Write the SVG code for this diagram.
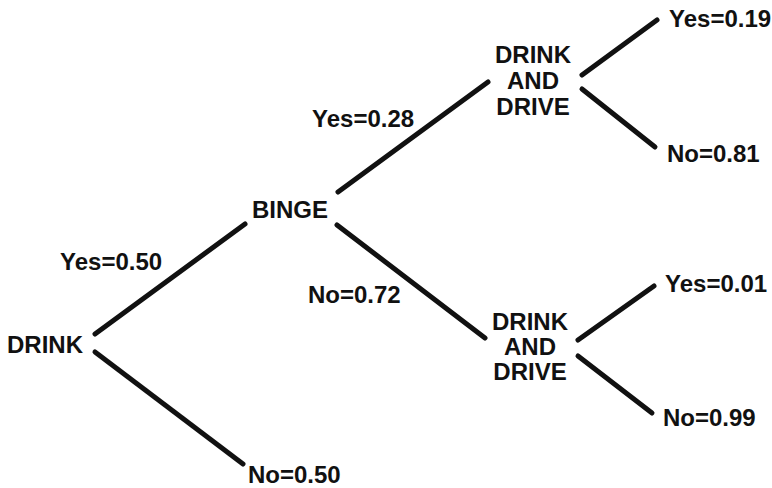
<svg xmlns="http://www.w3.org/2000/svg" width="772" height="488" viewBox="0 0 772 488">
<style>
text{font-family:"Liberation Sans",Arial,Helvetica,sans-serif;font-weight:bold;font-size:24px;fill:#111}
.node text{text-anchor:middle}
#connectors line{stroke:#111;stroke-width:5;stroke-linecap:round}
</style>
<rect width="772" height="488" fill="#fff"/>
<g id="connectors">
<line x1="95" y1="334" x2="245" y2="224"/>
<line x1="95" y1="352" x2="243" y2="464"/>
<line x1="338" y1="192" x2="488" y2="82"/>
<line x1="337" y1="225" x2="485" y2="338"/>
<line x1="582" y1="75" x2="657" y2="20"/>
<line x1="582" y1="89" x2="655" y2="147"/>
<line x1="578" y1="340" x2="654" y2="286"/>
<line x1="578" y1="356" x2="652" y2="413"/>
</g>
<g id="drink" class="node"><text x="45" y="353">DRINK</text></g>
<g id="binge" class="node"><text x="290" y="218">BINGE</text></g>
<g id="dad1" class="node">
<text x="533" y="63">DRINK</text>
<text x="533" y="89">AND</text>
<text x="533" y="115">DRIVE</text>
</g>
<g id="dad2" class="node">
<text x="530" y="330">DRINK</text>
<text x="530" y="355">AND</text>
<text x="530" y="380">DRIVE</text>
</g>
<g id="labels">
<text x="60" y="270">Yes=0.50</text>
<text x="248" y="483">No=0.50</text>
<text x="312" y="127">Yes=0.28</text>
<text x="308" y="303">No=0.72</text>
<text x="669" y="27">Yes=0.19</text>
<text x="667" y="162">No=0.81</text>
<text x="665" y="292">Yes=0.01</text>
<text x="663" y="426">No=0.99</text>
</g>
</svg>
